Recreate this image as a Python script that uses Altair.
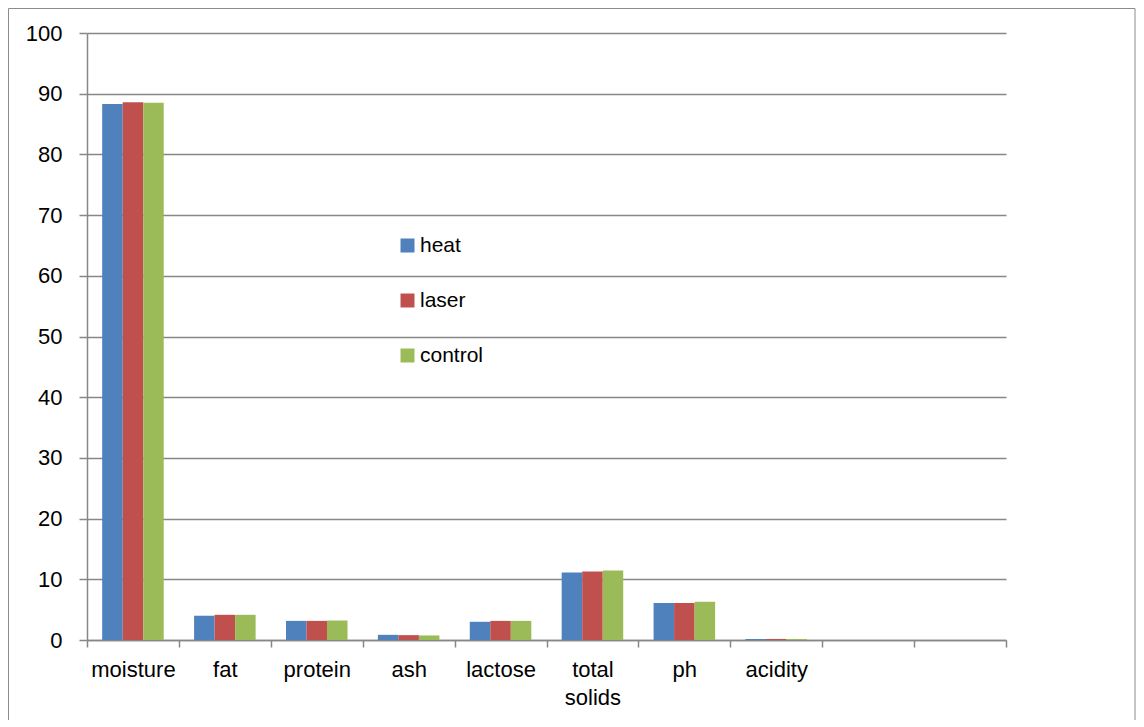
import altair as alt
import pandas as pd

categories = ["moisture", "fat", "protein", "ash", "lactose", "total solids", "ph", "acidity"]
blank_slots = [" ", "  "]
series = ["heat", "laser", "control"]
heat = [88.3, 4.0, 3.15, 0.85, 3.0, 11.1, 6.1, 0.16]
laser = [88.6, 4.15, 3.15, 0.8, 3.15, 11.3, 6.1, 0.17]
control = [88.5, 4.15, 3.2, 0.75, 3.15, 11.45, 6.3, 0.17]
colors = ["#4F81BD", "#C0504D", "#9BBB59"]
y_ticks = list(range(0, 101, 10))

rows = []
for name, vals in zip(series, [heat, laser, control]):
    for c, v in zip(categories, vals):
        rows.append({"category": c, "series": name, "value": v})
df = pd.DataFrame(rows)

FONT = "Liberation Sans"
GRID = "#878787"

bars = alt.Chart(df).mark_bar().encode(
    x=alt.X(
        "category:N",
        scale=alt.Scale(domain=categories + blank_slots, paddingInner=0, paddingOuter=0),
        axis=alt.Axis(
            title=None,
            labelAngle=0,
            tickBand="extent",
            tickSize=7,
            tickColor=GRID,
            tickWidth=1.5,
            domainColor=GRID,
            domainWidth=1.5,
            labelPadding=12,
            labelFont=FONT,
            labelFontSize=22,
            labelLineHeight=28,
            labelColor="black",
            labelExpr="datum.value == 'total solids' ? ['total', 'solids'] : datum.value",
        ),
    ),
    xOffset=alt.XOffset("series:N", scale=alt.Scale(domain=series, paddingInner=0, paddingOuter=0.74)),
    y=alt.Y(
        "value:Q",
        scale=alt.Scale(domain=[0, 100], nice=False),
        axis=alt.Axis(
            title=None,
            values=y_ticks,
            grid=True,
            tickSize=8,
            tickColor=GRID,
            tickWidth=1.5,
            domainColor=GRID,
            domainWidth=1.5,
            gridColor=GRID,
            gridWidth=1.5,
            labelPadding=17,
            labelFont=FONT,
            labelFontSize=22,
            labelColor="black",
        ),
    ),
    color=alt.Color(
        "series:N",
        scale=alt.Scale(domain=series, range=colors),
        legend=alt.Legend(
            title=None,
            orient="none",
            legendX=310,
            legendY=202,
            symbolType="square",
            symbolSize=196,
            symbolOpacity=1,
            labelFont=FONT,
            labelFontSize=21,
            labelColor="black",
            labelOffset=2,
            rowPadding=33,
        ),
    ),
)

frame = alt.Chart(alt.Data(values=[{"a": 1}])).mark_rect(
    fill="transparent", stroke="#8c8c8c", strokeWidth=1
).encode(
    x=alt.value(-78.5), x2=alt.value(1048), y=alt.value(-24.5), y2=alt.value(720)
)

chart = alt.layer(bars, frame).properties(
    width=919,
    height=607,
    autosize=alt.AutoSizeParams(type="none"),
    padding={"left": 79, "top": 25, "right": 130, "bottom": 80},
).configure_view(stroke=None)

chart.save("out.html", embed_options={"renderer": "svg", "actions": False})
